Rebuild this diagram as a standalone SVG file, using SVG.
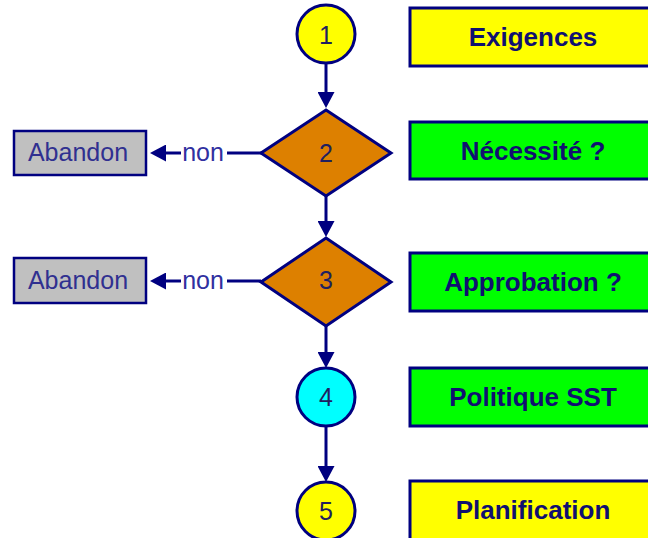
<svg xmlns="http://www.w3.org/2000/svg" width="648" height="538" viewBox="0 0 648 538">
  <style>
    .shape { stroke: #000080; stroke-width: 3; }
    .yellow { fill: #FFFF00; }
    .green { fill: #00FF00; }
    .cyan { fill: #00FFFF; }
    .orange { fill: #DD8000; }
    .grey { fill: #C0C0C0; stroke: #000080; stroke-width: 2.5; }
    .lbl { font-family: "Liberation Sans", Arial, sans-serif; font-size: 26px; font-weight: bold; fill: #101070; text-anchor: middle; }
    .num { font-family: "Liberation Sans", Arial, sans-serif; font-size: 25px; fill: #202060; text-anchor: middle; }
    .ab { font-family: "Liberation Sans", Arial, sans-serif; font-size: 25px; fill: #303090; text-anchor: middle; }
    .non { font-family: "Liberation Sans", Arial, sans-serif; font-size: 25px; fill: #3030A0; text-anchor: middle; }
    .conn { stroke: #000080; stroke-width: 3; fill: none; }
  </style>
  <defs>
    <marker id="arrow" markerUnits="userSpaceOnUse" markerWidth="16" markerHeight="17" viewBox="0 0 16 17" refX="0" refY="8.5" orient="auto">
      <path d="M0,0 L16,8.5 L0,17 z" fill="#000080"/>
    </marker>
  </defs>

  <g id="connectors">
    <line class="conn" x1="326" y1="63" x2="326" y2="92" marker-end="url(#arrow)"/>
    <line class="conn" x1="326" y1="196" x2="326" y2="221" marker-end="url(#arrow)"/>
    <line class="conn" x1="326" y1="326" x2="326" y2="352" marker-end="url(#arrow)"/>
    <line class="conn" x1="326" y1="426" x2="326" y2="466" marker-end="url(#arrow)"/>
    <line class="conn" x1="261" y1="153" x2="227" y2="153"/>
    <line class="conn" x1="181" y1="153" x2="166" y2="153" marker-end="url(#arrow)"/>
    <text class="non" x="203" y="161">non</text>
    <line class="conn" x1="261" y1="281" x2="227" y2="281"/>
    <line class="conn" x1="181" y1="281" x2="166" y2="281" marker-end="url(#arrow)"/>
    <text class="non" x="203" y="289">non</text>
  </g>

  <g id="n1">
    <circle class="shape yellow" cx="326" cy="34" r="29"/>
    <text class="num" x="326" y="44">1</text>
  </g>
  <g id="exigences">
    <rect class="shape yellow" x="410" y="8" width="250" height="58"/>
    <text class="lbl" x="533" y="46">Exigences</text>
  </g>

  <g id="n2">
    <polygon class="shape orange" points="326,110 391,153 326,196 261,153"/>
    <text class="num" x="326" y="162">2</text>
  </g>
  <g id="necessite">
    <rect class="shape green" x="410" y="122" width="250" height="57"/>
    <text class="lbl" x="533" y="160">Nécessité ?</text>
  </g>
  <g id="abandon1">
    <rect class="grey" x="14" y="131" width="132" height="44"/>
    <text class="ab" x="78" y="161">Abandon</text>
  </g>

  <g id="n3">
    <polygon class="shape orange" points="326,238 391,282 326,326 261,282"/>
    <text class="num" x="326" y="289">3</text>
  </g>
  <g id="approbation">
    <rect class="shape green" x="410" y="253" width="250" height="58"/>
    <text class="lbl" x="533" y="291">Approbation ?</text>
  </g>
  <g id="abandon2">
    <rect class="grey" x="14" y="258" width="132" height="45"/>
    <text class="ab" x="78" y="289">Abandon</text>
  </g>

  <g id="n4">
    <circle class="shape cyan" cx="326" cy="397" r="29"/>
    <text class="num" x="326" y="406">4</text>
  </g>
  <g id="politique">
    <rect class="shape green" x="410" y="368" width="250" height="58"/>
    <text class="lbl" x="533" y="406">Politique SST</text>
  </g>

  <g id="n5">
    <circle class="shape yellow" cx="326" cy="511" r="29"/>
    <text class="num" x="326" y="520">5</text>
  </g>
  <g id="planification">
    <rect class="shape yellow" x="410" y="481" width="250" height="60"/>
    <text class="lbl" x="533" y="519">Planification</text>
  </g>
</svg>
